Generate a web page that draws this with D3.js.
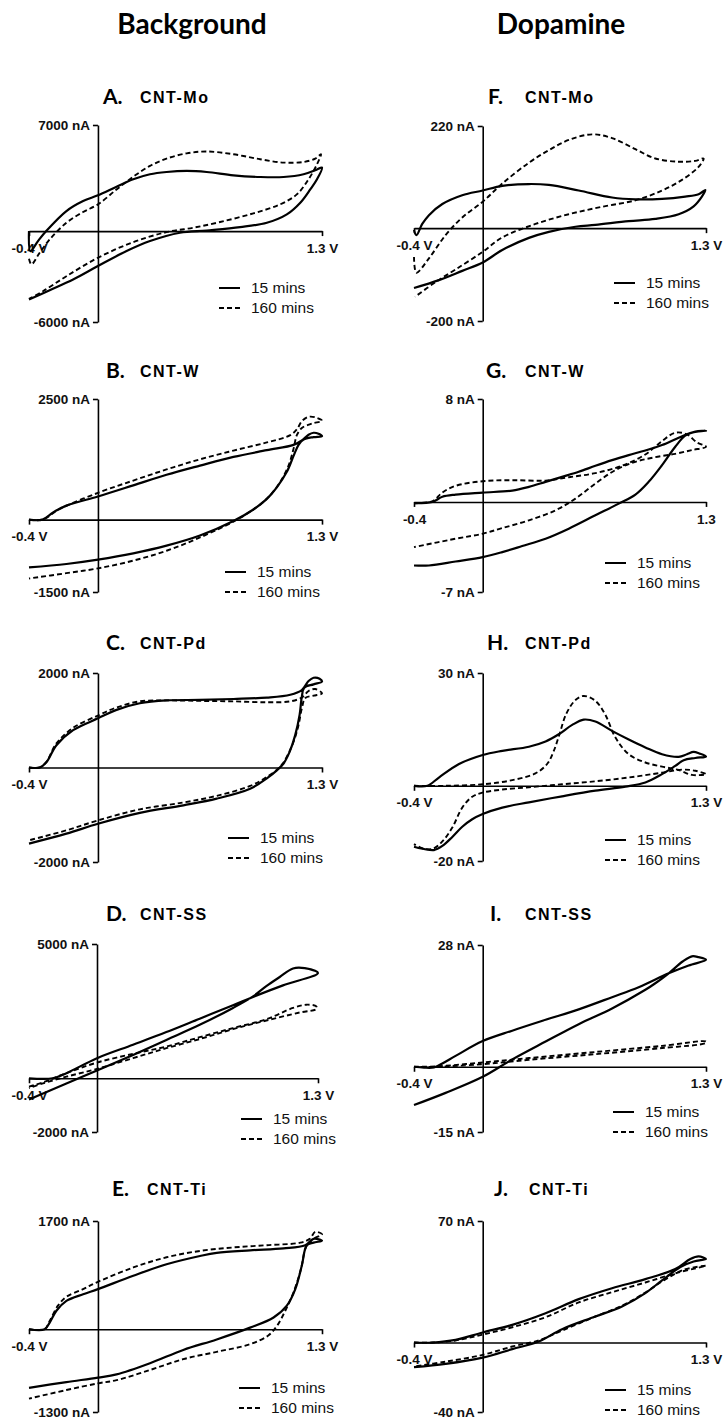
<!DOCTYPE html>
<html>
<head>
<meta charset="utf-8">
<script src="https://cdn.jsdelivr.net/npm/d3@7"></script>
<style>
  body { margin: 0; background: #fff; }
</style>
</head>
<body>
<div id="chart"></div>
<script>
// ---- data: [potential (V), current (nA)] along the scan ----
const A15 = [[-0.4,0],[-0.392,-1320],[-0.348,-660],[-0.3,0],[-0.183,1320],[-0.086,1980],[0,2360],[0.108,2930],[0.205,3420],[0.302,3750],[0.398,3900],[0.515,3970],[0.631,3900],[0.786,3680],[0.941,3570],[1.077,3570],[1.193,3750],[1.261,4010],[1.3,4190],[1.271,3420],[1.232,2750],[1.174,1870],[1.096,1100],[0.98,550],[0.825,260],[0.631,40],[0.476,-110],[0.302,-660],[0.166,-1320],[0,-2310],[-0.144,-3200],[-0.28,-3900],[-0.4,-4520]];
const A160 = [[-0.4,-1830],[-0.386,-2200],[-0.338,-1430],[-0.28,-550],[-0.183,550],[-0.086,1260],[0,1760],[0.108,2750],[0.205,3590],[0.302,4300],[0.398,4780],[0.515,5130],[0.631,5250],[0.786,5070],[0.941,4740],[1.077,4520],[1.193,4560],[1.261,4780],[1.294,5070],[1.271,4410],[1.222,3420],[1.154,2420],[1.057,1760],[0.902,1170],[0.709,600],[0.553,220],[0.398,-70],[0.205,-730],[0,-1760],[-0.183,-2980],[-0.319,-3970],[-0.4,-4470]];
const B15 = [[-0.4,0],[-0.322,0],[-0.26,150],[-0.183,290],[0,480],[0.205,710],[0.398,930],[0.592,1120],[0.786,1300],[0.98,1440],[1.135,1550],[1.183,1640],[1.222,1760],[1.251,1800],[1.28,1780],[1.3,1730],[1.251,1710],[1.193,1660],[1.164,1550],[1.135,1320],[1.096,990],[1.038,670],[0.98,430],[0.902,210],[0.786,-30],[0.592,-330],[0.398,-540],[0.205,-700],[0,-830],[-0.183,-920],[-0.4,-990]];
const B160 = [[-0.4,0],[-0.322,0],[-0.222,220],[0,555],[0.205,810],[0.398,1040],[0.592,1250],[0.786,1430],[0.98,1600],[1.116,1750],[1.154,1870],[1.183,2040],[1.222,2130],[1.261,2120],[1.3,2050],[1.241,1990],[1.183,1900],[1.154,1750],[1.135,1470],[1.106,1120],[1.057,780],[0.99,470],[0.902,210],[0.786,-40],[0.592,-370],[0.398,-645],[0.205,-850],[0,-1010],[-0.183,-1110],[-0.4,-1220]];
const C15 = [[-0.4,0],[-0.338,0],[-0.299,110],[-0.241,470],[-0.144,790],[0,1040],[0.108,1220],[0.243,1360],[0.398,1420],[0.592,1430],[0.786,1450],[0.98,1480],[1.116,1540],[1.183,1640],[1.222,1830],[1.251,1900],[1.286,1880],[1.3,1820],[1.251,1760],[1.197,1690],[1.183,1500],[1.17,1110],[1.145,690],[1.112,330],[1.077,85],[1.038,-60],[0.98,-230],[0.883,-450],[0.689,-660],[0.496,-800],[0.243,-960],[0,-1190],[-0.183,-1400],[-0.4,-1610]];
const C160 = [[-0.4,0],[-0.338,0],[-0.299,120],[-0.241,510],[-0.144,840],[0,1100],[0.108,1270],[0.243,1400],[0.398,1420],[0.592,1410],[0.786,1400],[0.98,1380],[1.116,1400],[1.183,1480],[1.222,1620],[1.261,1660],[1.3,1570],[1.251,1520],[1.203,1470],[1.183,1250],[1.164,900],[1.135,545],[1.096,230],[1.057,15],[0.98,-200],[0.883,-390],[0.689,-600],[0.496,-740],[0.243,-885],[0,-1120],[-0.183,-1330],[-0.4,-1540]];
const D15 = [[-0.4,0],[-0.26,0],[-0.18,190],[0,750],[0.212,1250],[0.408,1720],[0.604,2220],[0.8,2720],[0.918,3030],[1.094,3460],[1.3,3920],[1.222,4100],[1.153,4090],[1.075,3770],[0.996,3430],[0.918,3050],[0.8,2620],[0.604,1990],[0.408,1430],[0.212,870],[0,290],[-0.18,-190],[-0.4,-790]];
const D160 = [[-0.4,-310],[-0.318,-150],[-0.18,190],[0,585],[0.212,910],[0.408,1180],[0.604,1530],[0.8,1870],[0.996,2200],[1.153,2620],[1.231,2740],[1.29,2680],[1.29,2580],[1.192,2450],[0.996,2150],[0.8,1830],[0.604,1460],[0.408,1120],[0.212,750],[0,350],[-0.18,60],[-0.318,-190],[-0.4,-370]];
const E15 = [[-0.4,0],[-0.309,0],[-0.28,105],[-0.241,290],[-0.183,445],[-0.086,550],[0,630],[0.205,840],[0.398,1020],[0.592,1150],[0.689,1200],[0.883,1240],[1.077,1270],[1.203,1320],[1.251,1420],[1.3,1390],[1.251,1360],[1.212,1320],[1.183,1000],[1.145,630],[1.096,370],[1.019,185],[0.883,25],[0.689,-160],[0.495,-325],[0.302,-535],[0.108,-710],[0,-760],[-0.183,-830],[-0.4,-920]];
const E160 = [[-0.4,0],[-0.309,0],[-0.28,130],[-0.232,370],[-0.183,510],[-0.086,630],[0,745],[0.205,970],[0.398,1130],[0.592,1230],[0.786,1285],[0.98,1320],[1.174,1360],[1.229,1420],[1.261,1530],[1.3,1490],[1.251,1420],[1.209,1300],[1.178,945],[1.135,580],[1.087,290],[1.038,50],[0.99,-95],[0.883,-235],[0.689,-355],[0.495,-470],[0.302,-640],[0.108,-800],[0,-850],[-0.183,-955],[-0.4,-1090]];
const F15 = [[-0.4,-4],[-0.386,-15],[-0.352,9],[-0.313,28],[-0.235,52],[-0.119,71],[0,81],[0.114,91],[0.269,95],[0.385,93],[0.559,81],[0.753,66],[0.889,62],[1.044,63],[1.179,68],[1.257,73],[1.296,82],[1.276,68],[1.228,47],[1.141,30],[1.005,20],[0.85,15],[0.656,7],[0.54,3],[0.385,-8],[0.269,-21],[0.114,-47],[0,-74],[-0.119,-92],[-0.255,-112],[-0.4,-129]];
const F160 = [[-0.4,-62],[-0.386,-96],[-0.313,-65],[-0.216,-15],[-0.119,23],[0,57],[0.114,96],[0.269,141],[0.385,168],[0.501,190],[0.637,202],[0.753,194],[0.889,170],[1.005,150],[1.141,143],[1.238,145],[1.286,150],[1.257,132],[1.16,104],[1.044,81],[0.889,60],[0.695,46],[0.501,30],[0.307,9],[0.114,-20],[0,-51],[-0.158,-89],[-0.274,-116],[-0.394,-148]];
const G15 = [[-0.4,-0.1],[-0.293,0],[-0.235,0.4],[-0.158,0.57],[0,0.73],[0.172,0.88],[0.269,1.17],[0.366,1.56],[0.462,1.95],[0.559,2.34],[0.656,2.81],[0.753,3.25],[0.85,3.64],[0.947,4.0],[1.044,4.42],[1.141,4.99],[1.209,5.35],[1.257,5.48],[1.3,5.54],[1.238,5.46],[1.179,5.15],[1.121,4.29],[1.044,2.86],[0.966,1.56],[0.889,0.57],[0.792,-0.13],[0.656,-1.04],[0.501,-2.08],[0.366,-2.86],[0.23,-3.43],[0.114,-3.9],[0,-4.29],[-0.158,-4.63],[-0.313,-4.94],[-0.4,-4.94]];
const G160 = [[-0.4,-0.1],[-0.293,0.05],[-0.235,0.73],[-0.158,1.25],[0,1.61],[0.172,1.69],[0.366,1.66],[0.501,1.92],[0.656,2.24],[0.811,2.81],[0.947,3.69],[1.044,4.73],[1.121,5.38],[1.189,5.25],[1.247,4.63],[1.3,4.29],[1.218,4.03],[1.121,3.74],[1.005,3.48],[0.889,3.12],[0.772,2.47],[0.656,1.43],[0.54,0.26],[0.424,-0.65],[0.269,-1.43],[0.114,-2.03],[0,-2.47],[-0.158,-2.86],[-0.4,-3.51]];
const H15 = [[-0.4,0],[-0.322,0],[-0.255,2.2],[-0.138,5.8],[0,8.2],[0.114,9.3],[0.269,10.4],[0.366,11.8],[0.443,13.7],[0.521,16.2],[0.588,17.6],[0.656,17.1],[0.753,14.6],[0.85,12.3],[0.947,10.2],[1.044,8.4],[1.141,7.7],[1.189,8.4],[1.228,9.0],[1.261,8.6],[1.3,7.8],[1.238,7.4],[1.17,6.8],[1.121,5.3],[1.044,3.1],[0.947,0.9],[0.831,-0.2],[0.656,-1.3],[0.462,-2.8],[0.269,-4.4],[0.114,-5.8],[0,-7.5],[-0.061,-8.9],[-0.119,-10.9],[-0.177,-13.6],[-0.235,-16.0],[-0.284,-17.1],[-0.342,-16.8],[-0.4,-16.2]];
const H160 = [[-0.4,0],[-0.216,0],[0,0.4],[0.172,1.5],[0.307,3.3],[0.375,5.8],[0.414,9.3],[0.447,13.7],[0.486,19.1],[0.54,22.8],[0.588,23.9],[0.656,22.6],[0.714,18.9],[0.772,12.9],[0.85,8.4],[0.947,6.2],[1.044,5.1],[1.141,4.2],[1.218,2.9],[1.3,3.1],[1.238,4.0],[1.16,4.3],[1.044,3.5],[0.85,2.2],[0.656,1.2],[0.462,0.4],[0.269,-0.4],[0.114,-1.0],[0,-1.8],[-0.061,-2.9],[-0.119,-5.8],[-0.177,-11.1],[-0.235,-14.8],[-0.293,-16.8],[-0.352,-16.6],[-0.4,-15.5]];
const I15 = [[-0.4,0],[-0.342,-0.2],[-0.284,-0.15],[-0.235,0.77],[-0.158,2.5],[0,5.9],[0.172,8.3],[0.366,10.8],[0.559,13.2],[0.753,16.0],[0.908,18.3],[1.083,21.5],[1.199,23.3],[1.3,24.6],[1.257,25.2],[1.218,25.4],[1.164,24.2],[1.083,21.5],[1.005,19.2],[0.947,17.7],[0.753,13.4],[0.559,9.8],[0.366,5.8],[0.172,1.7],[0,-2.3],[-0.216,-6.0],[-0.4,-8.8]];
const I160 = [[-0.4,0],[-0.274,0.08],[0,1.0],[0.269,2.0],[0.656,3.4],[1.044,4.8],[1.3,5.8],[1.3,5.5],[1.044,4.3],[0.656,2.9],[0.269,1.6],[0,0.6],[-0.274,0],[-0.4,0]];
const J15 = [[-0.4,0],[-0.293,0],[-0.158,1.5],[0,5.8],[0.172,10.2],[0.366,16.9],[0.559,25.0],[0.753,31.3],[0.947,36.5],[1.121,42.3],[1.209,48.1],[1.257,49.6],[1.3,48.1],[1.228,46.7],[1.151,43.5],[1.044,35.8],[0.947,28.5],[0.811,20.8],[0.656,15.0],[0.462,7.7],[0.326,0.6],[0.172,-3.8],[0,-8.7],[-0.216,-12.3],[-0.4,-14.2]];
const J160 = [[-0.4,0],[-0.293,0],[-0.158,1.2],[0,4.6],[0.172,8.8],[0.366,14.6],[0.559,23.1],[0.753,29.0],[0.947,34.6],[1.141,40.4],[1.3,44.2],[1.17,41.9],[1.054,35.8],[0.947,28.8],[0.811,21.2],[0.656,15.0],[0.462,6.9],[0.326,1.2],[0.172,-2.3],[0,-7.1],[-0.216,-11.0],[-0.4,-13.8]];

const columnTitles = ["Background", "Dopamine"];
const letters = ["A.", "B.", "C.", "D.", "E.", "F.", "G.", "H.", "I.", "J."];
const electrodes = ["CNT-Mo", "CNT-W", "CNT-Pd", "CNT-SS", "CNT-Ti", "CNT-Mo", "CNT-W", "CNT-Pd", "CNT-SS", "CNT-Ti"];
const yMax = [7000, 2500, 2000, 5000, 1700, 220, 8, 30, 28, 70];
const yMin = [-6000, -1500, -2000, -2000, -1300, -200, -7, -20, -15, -40];
const xDomain = [-0.4, 1.3];
const xTickLabels = [["-0.4 V", "1.3 V"], ["-0.4 V", "1.3 V"], ["-0.4 V", "1.3 V"], ["-0.4 V", "1.3 V"], ["-0.4 V", "1.3 V"],
                     ["-0.4 V", "1.3 V"], ["-0.4", "1.3"], ["-0.4 V", "1.3 V"], ["-0.4 V", "1.3 V"], ["-0.4 V", "1.3 V"]];
const seriesNames = ["15 mins", "160 mins"];
const scans15 = [A15, B15, C15, D15, E15, F15, G15, H15, I15, J15];
const scans160 = [A160, B160, C160, D160, E160, F160, G160, H160, I160, J160];

// ---- layout (pixels) ----
const geom = [
  {x0: 29, w: 293, top: 125, bot: 322, ty: 104, tl: 103, tn: 140, lx: 219, ly: 288},
  {x0: 29, w: 293, top: 399, bot: 592, ty: 378, tl: 106, tn: 140, lx: 225, ly: 572},
  {x0: 29, w: 293, top: 673, bot: 862, ty: 650, tl: 106, tn: 140, lx: 228, ly: 838},
  {x0: 29, w: 289, top: 944, bot: 1132, ty: 921, tl: 106, tn: 140, lx: 241, ly: 1119},
  {x0: 29, w: 293, top: 1221, bot: 1412, ty: 1196, tl: 112, tn: 147, lx: 239, ly: 1388},
  {x0: 414, w: 292, top: 126, bot: 321, ty: 104, tl: 488, tn: 525, lx: 614, ly: 283},
  {x0: 414, w: 292, top: 399, bot: 592, ty: 378, tl: 486, tn: 525, lx: 605, ly: 563},
  {x0: 414, w: 292, top: 673, bot: 861, ty: 650, tl: 487, tn: 525, lx: 605, ly: 840},
  {x0: 414, w: 292, top: 945, bot: 1132, ty: 921, tl: 490, tn: 525, lx: 613, ly: 1112},
  {x0: 414, w: 292, top: 1221, bot: 1412, ty: 1196, tl: 494, tn: 529, lx: 605, ly: 1390}
];
const headerX = [192, 561];

const svg = d3.select("#chart").append("svg")
  .attr("width", 724)
  .attr("height", 1420)
  .style("font-family", "'Liberation Sans', Arial, sans-serif");

svg.selectAll("text.header")
  .data(columnTitles)
  .enter().append("text")
  .attr("class", "header")
  .attr("x", (d, i) => headerX[i])
  .attr("y", 34)
  .attr("text-anchor", "middle")
  .style("font-family", "Lato, 'Open Sans', sans-serif")
  .style("font-weight", "bold")
  .style("font-size", "28px")
  .text(d => d);

const line = d3.line().curve(d3.curveCatmullRom.alpha(0.5));

geom.forEach(function(g, p) {
  const x = d3.scaleLinear().domain(xDomain).range([g.x0, g.x0 + g.w]);
  const y = d3.scaleLinear().domain([yMin[p], yMax[p]]).range([g.bot, g.top]);
  line.x(d => x(d[0])).y(d => y(d[1]));

  // panel title
  svg.append("text")
    .attr("x", g.tl).attr("y", g.ty)
    .style("font-family", "Lato, sans-serif")
    .style("font-weight", "bold")
    .style("font-size", "21px")
    .text(letters[p]);
  svg.append("text")
    .attr("x", g.tn).attr("y", g.ty - 1)
    .style("font-weight", "bold")
    .style("font-size", "16px")
    .style("letter-spacing", "1.5px")
    .text(electrodes[p]);

  // axes crossing at the origin
  const yAxis = svg.append("g")
    .attr("transform", "translate(" + x(0) + ",0)")
    .call(d3.axisLeft(y).tickValues([yMin[p], yMax[p]]).tickSize(5).tickSizeOuter(0)
      .tickFormat(d => d + " nA"));
  const xAxis = svg.append("g")
    .attr("transform", "translate(0," + y(0) + ")")
    .call(d3.axisBottom(x).tickValues(xDomain).tickSize(5).tickSizeOuter(0).tickPadding(7)
      .tickFormat((d, i) => xTickLabels[p][i]));
  [yAxis, xAxis].forEach(function(a) {
    a.selectAll("path, line").attr("stroke", "#000").attr("stroke-width", 1.6);
    a.selectAll("text")
      .attr("fill", "#111")
      .style("font-family", "'Liberation Sans', Arial, sans-serif")
      .style("font-weight", "bold")
      .style("font-size", "13.5px");
  });

  // voltammograms
  svg.append("path")
    .attr("d", line(scans15[p]))
    .attr("fill", "none")
    .attr("stroke", "#000")
    .attr("stroke-width", 2.2)
    .attr("stroke-linejoin", "round");
  svg.append("path")
    .attr("d", line(scans160[p]))
    .attr("fill", "none")
    .attr("stroke", "#000")
    .attr("stroke-width", 1.9)
    .attr("stroke-dasharray", "5,3");

  // legend
  const leg = svg.append("g").attr("transform", "translate(" + g.lx + "," + g.ly + ")");
  seriesNames.forEach(function(name, k) {
    const yy = k * 20;
    leg.append("line")
      .attr("x1", 0).attr("x2", 21).attr("y1", yy).attr("y2", yy)
      .attr("stroke", "#000")
      .attr("stroke-width", k === 0 ? 2 : 1.8)
      .attr("stroke-dasharray", k === 0 ? null : "5,3");
    leg.append("text")
      .attr("x", 32).attr("y", yy)
      .attr("dy", "0.35em")
      .style("font-size", "15.5px")
      .attr("fill", "#111")
      .text(name);
  });
});
</script>
</body>
</html>
